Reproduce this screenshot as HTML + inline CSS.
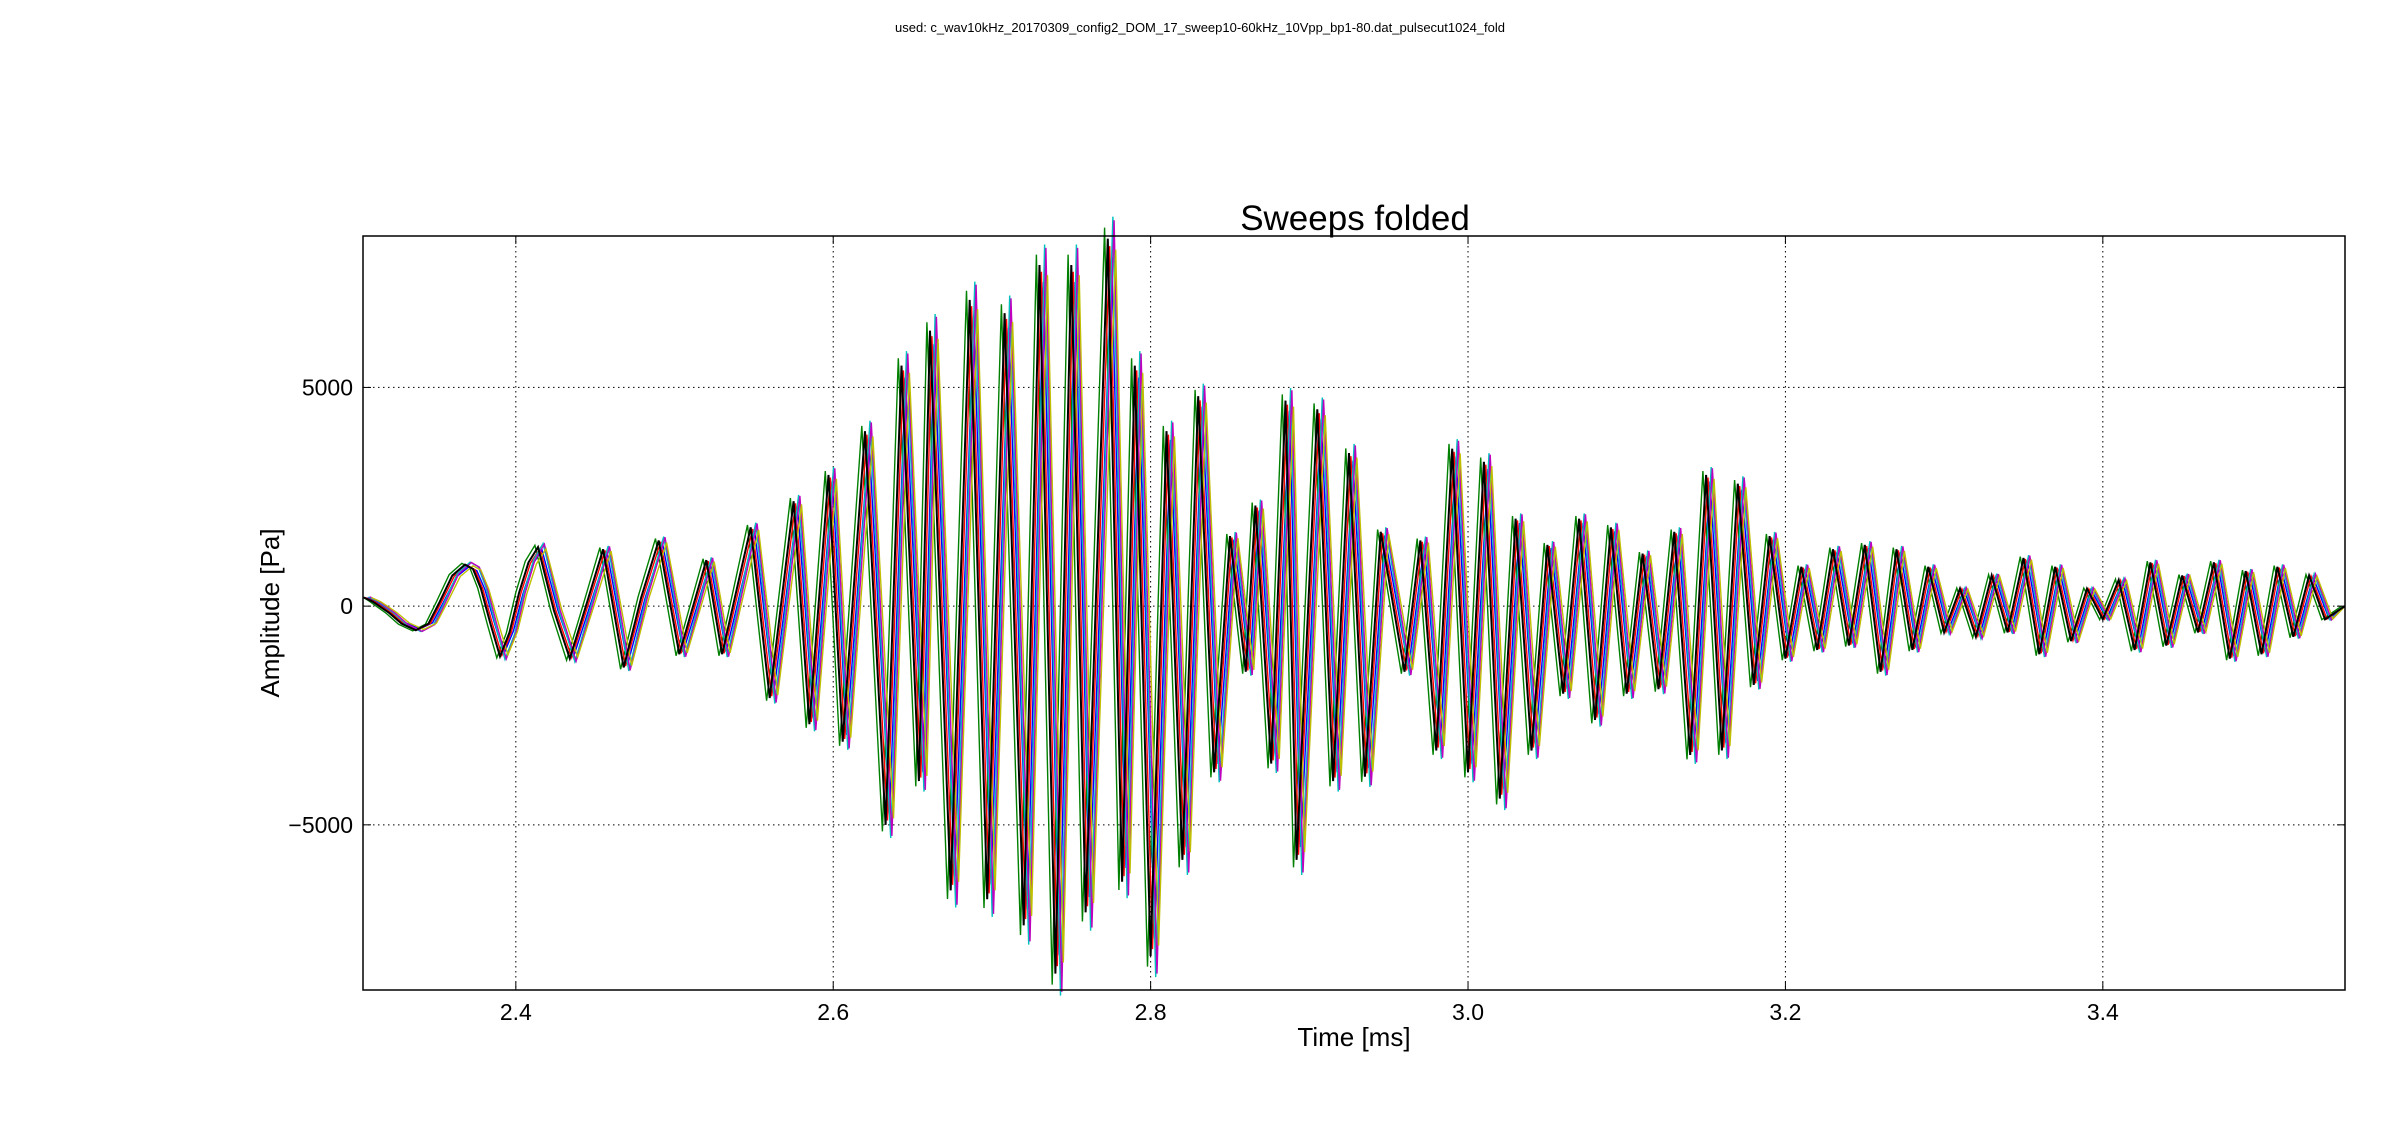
<!DOCTYPE html>
<html><head><meta charset="utf-8"><style>
body{margin:0;background:#fff;font-family:"Liberation Sans",sans-serif}
</style></head><body>
<svg id="chart" width="2400" height="1137" xmlns="http://www.w3.org/2000/svg" font-family="Liberation Sans, DejaVu Sans, sans-serif">
<rect width="2400" height="1137" fill="#fff"/>
<text x="1200" y="32" font-size="13" text-anchor="middle">used: c_wav10kHz_20170309_config2_DOM_17_sweep10-60kHz_10Vpp_bp1-80.dat_pulsecut1024_fold</text>
<text x="1355" y="230" font-size="35" text-anchor="middle">Sweeps folded</text>
<g id="grid"></g>
<g id="series"></g>
<rect x="363" y="236" width="1982" height="754" fill="none" stroke="#000" stroke-width="1.5"/>
<g id="ticks"></g>
<text x="1354" y="1046" font-size="26" text-anchor="middle">Time [ms]</text>
<text transform="translate(279,613) rotate(-90)" font-size="26" text-anchor="middle">Amplitude [Pa]</text>
</svg>
<script>
const xTicks=[2.4,2.6,2.8,3.0,3.2,3.4];
const xTickLabels=["2.4","2.6","2.8","3.0","3.2","3.4"];
const yTicks=[-5000,0,5000];
const yTickLabels=["\u22125000","0","5000"];
const extremaTimes=[2.304,2.310,2.320,2.328,2.337,2.345,2.352,2.360,2.368,2.373,2.378,2.384,2.390,2.396,2.402,2.408,2.414,2.424,2.434,2.445,2.455,2.468,2.479,2.490,2.503,2.520,2.530,2.548,2.560,2.575,2.585,2.597,2.606,2.620,2.633,2.643,2.654,2.661,2.674,2.686,2.697,2.708,2.720,2.730,2.740,2.750,2.759,2.773,2.782,2.790,2.800,2.810,2.820,2.830,2.840,2.850,2.860,2.866,2.876,2.885,2.892,2.905,2.915,2.925,2.935,2.945,2.960,2.970,2.980,2.990,3.000,3.010,3.020,3.030,3.040,3.050,3.060,3.070,3.080,3.090,3.100,3.110,3.120,3.130,3.140,3.150,3.160,3.170,3.180,3.190,3.200,3.210,3.220,3.230,3.240,3.250,3.260,3.270,3.280,3.290,3.300,3.310,3.320,3.330,3.340,3.350,3.360,3.370,3.380,3.390,3.400,3.410,3.420,3.430,3.440,3.450,3.460,3.470,3.480,3.490,3.500,3.510,3.520,3.530,3.540,3.5526];
const extremaValues=[200,100,-150,-400,-550,-400,100,700,950,850,400,-400,-1150,-600,300,1000,1350,-100,-1200,100,1300,-1400,200,1500,-1100,1050,-1100,1800,-2100,2400,-2700,3000,-3100,4000,-5000,5500,-4000,6300,-6500,7000,-6700,6700,-7300,7800,-8400,7800,-7000,8400,-6300,5500,-8000,4000,-5800,4800,-3800,1600,-1500,2300,-3600,4700,-5800,4500,-4000,3500,-3900,1700,-1500,1500,-3300,3600,-3800,3300,-4400,2000,-3300,1400,-2000,2000,-2600,1800,-2000,1200,-1900,1700,-3400,3000,-3300,2800,-1800,1600,-1200,900,-1000,1300,-900,1400,-1500,1300,-1000,900,-600,400,-700,700,-600,1100,-1100,900,-800,400,-300,600,-1000,1000,-900,700,-600,1000,-1200,800,-1100,900,-700,700,-300,0];
const seriesNames=["blue","green","red","cyan","magenta","yellow","black"];
const seriesColors=["#0000ff","#008000","#ff0000","#00bfbf","#bf00bf","#bfbf00","#000000"];
const seriesShifts=[0.0025,-0.002,0.0012,0.0032,0.004,0.005,0];
const seriesGains=[0.95,1.03,0.98,1.06,1.05,0.97,1.0];
const X0=363,X1=2345,Y0=236,Y1=990,xmin=2.3037,xmax=3.5526,ymin=-8776,ymax=8462;
const xs=t=>X0+(t-xmin)/(xmax-xmin)*(X1-X0);
const ys=v=>Y1-(v-ymin)/(ymax-ymin)*(Y1-Y0);
const NS="http://www.w3.org/2000/svg";
const grid=document.getElementById('grid'),ticks=document.getElementById('ticks'),ser=document.getElementById('series');
function mk(tag,attrs,parent){const e=document.createElementNS(NS,tag);for(const k in attrs)e.setAttribute(k,attrs[k]);parent.appendChild(e);return e;}
xTicks.forEach((t,i)=>{const x=xs(t);
 const g=mk('line',{x1:x,x2:x,y1:Y0,y2:Y1,stroke:'#000','stroke-width':1,'stroke-dasharray':'1.5,3.5'},grid);
 
 
 mk('line',{x1:x,x2:x,y1:Y1,y2:Y1-8,stroke:'#000'},ticks);
 mk('line',{x1:x,x2:x,y1:Y0,y2:Y0+8,stroke:'#000'},ticks);
 const l=mk('text',{x:x,y:Y1+30,'font-size':23,'text-anchor':'middle'},ticks);l.textContent=xTickLabels[i];
 
 
});
yTicks.forEach((v,i)=>{const y=ys(v);
 const g=mk('line',{x1:X0,x2:X1,y1:y,y2:y,stroke:'#000','stroke-width':1,'stroke-dasharray':'1.5,3.5'},grid);
 
 
 mk('line',{x1:X0,x2:X0+8,y1:y,y2:y,stroke:'#000'},ticks);
 mk('line',{x1:X1,x2:X1-8,y1:y,y2:y,stroke:'#000'},ticks);
 const l=mk('text',{x:X0-10,y:y+8,'font-size':23,'text-anchor':'end'},ticks);l.textContent=yTickLabels[i];
 
 
});
seriesNames.forEach((n,s)=>{
 const pts=extremaTimes.map((t,i)=>{const tt=Math.min(xmax,Math.max(xmin,t+seriesShifts[s]));return xs(tt).toFixed(1)+','+ys(extremaValues[i]*seriesGains[s]).toFixed(1);});
 const p=mk('polyline',{points:pts.join(' '),fill:'none',stroke:seriesColors[s],'stroke-width':s==6?2:1.4},ser);
 
 
});
</script>
</body></html>
